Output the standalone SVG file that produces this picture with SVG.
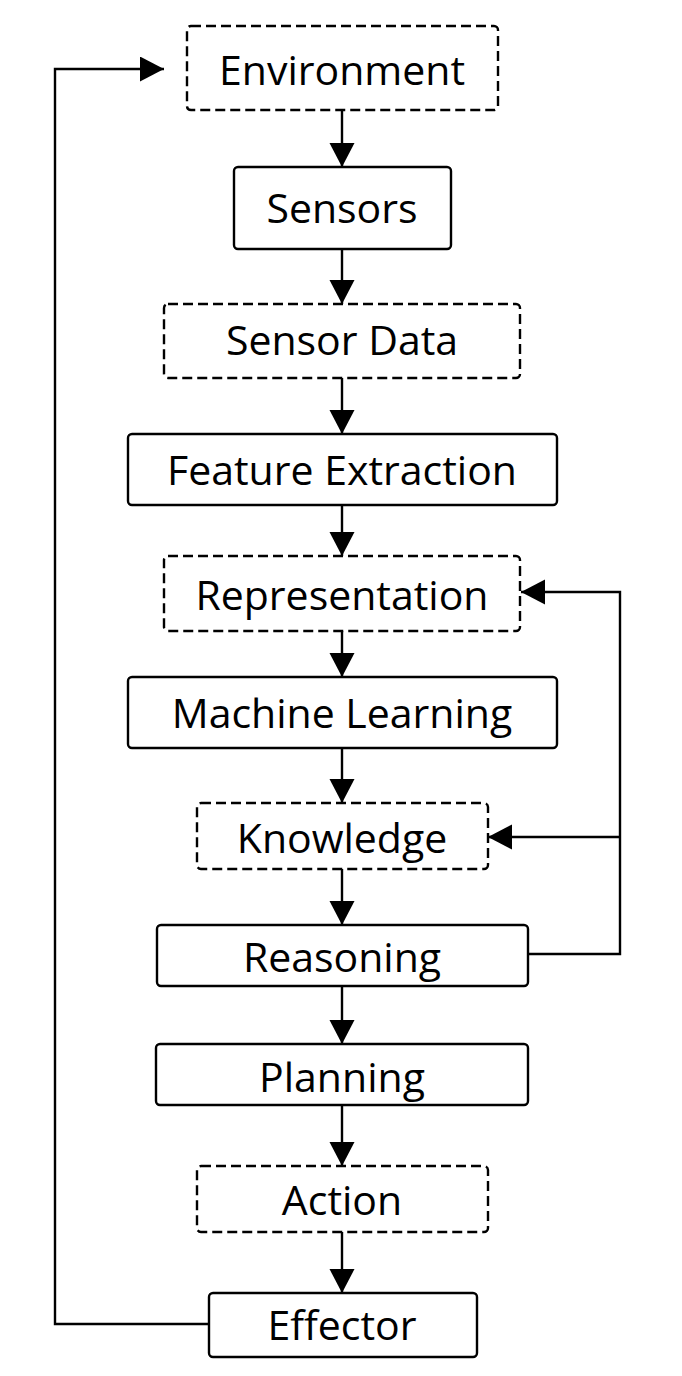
<svg xmlns="http://www.w3.org/2000/svg" width="682" height="1376" viewBox="0 0 682 1376">
<style>
.box{fill:#fff;stroke:#000;stroke-width:2.4}
.dash{fill:#fff;stroke:#000;stroke-width:2.4;stroke-dasharray:10 5}
.lbl{font-family:"Open Sans","Noto Sans",sans-serif;font-size:41px;fill:#000;text-anchor:middle}
.con{fill:none;stroke:#000;stroke-width:2.4;marker-end:url(#ah)}
</style>
<defs>
<marker id="ah" markerUnits="userSpaceOnUse" markerWidth="26" markerHeight="26" refX="24" refY="12.5" orient="auto">
<path d="M0,0 L24,12.5 L0,25 z" fill="#000"/>
</marker>
</defs>
<rect width="682" height="1376" fill="#fff"/>
<g id="connectors">
<path class="con" d="M342,110 V167"/>
<path class="con" d="M342,249 V304"/>
<path class="con" d="M342,378 V434"/>
<path class="con" d="M342,505 V556"/>
<path class="con" d="M342,631 V677"/>
<path class="con" d="M342,748 V803"/>
<path class="con" d="M342,869 V925"/>
<path class="con" d="M342,986 V1044"/>
<path class="con" d="M342,1105 V1166"/>
<path class="con" d="M342,1232 V1293"/>
<path class="con" d="M209,1324 H55 V69 H164"/>
<path class="con" d="M528,954 H620 V592 H521"/>
<path class="con" d="M620,837 H488"/>
</g>
<g id="environment"><rect class="dash" x="187" y="26" width="311" height="84" rx="4"/><text class="lbl" x="342" y="85">Environment</text></g>
<g id="sensors"><rect class="box" x="234" y="167" width="217" height="82" rx="4"/><text class="lbl" x="342" y="223">Sensors</text></g>
<g id="sensor-data"><rect class="dash" x="164" y="304" width="356" height="74" rx="4"/><text class="lbl" x="342" y="355">Sensor Data</text></g>
<g id="feature-extraction"><rect class="box" x="128" y="434" width="429" height="71" rx="4"/><text class="lbl" x="342" y="485">Feature Extraction</text></g>
<g id="representation"><rect class="dash" x="164" y="556" width="356" height="75" rx="4"/><text class="lbl" x="342" y="610">Representation</text></g>
<g id="machine-learning"><rect class="box" x="128" y="677" width="429" height="71" rx="4"/><text class="lbl" x="342" y="728">Machine Learning</text></g>
<g id="knowledge"><rect class="dash" x="197" y="803" width="291" height="66" rx="4"/><text class="lbl" x="342" y="853">Knowledge</text></g>
<g id="reasoning"><rect class="box" x="157" y="925" width="371" height="61" rx="4"/><text class="lbl" x="342" y="972">Reasoning</text></g>
<g id="planning"><rect class="box" x="156" y="1044" width="372" height="61" rx="4"/><text class="lbl" x="342" y="1092">Planning</text></g>
<g id="action"><rect class="dash" x="197" y="1166" width="291" height="66" rx="4"/><text class="lbl" x="342" y="1215">Action</text></g>
<g id="effector"><rect class="box" x="209" y="1293" width="268" height="64" rx="4"/><text class="lbl" x="342" y="1340">Effector</text></g>
</svg>
